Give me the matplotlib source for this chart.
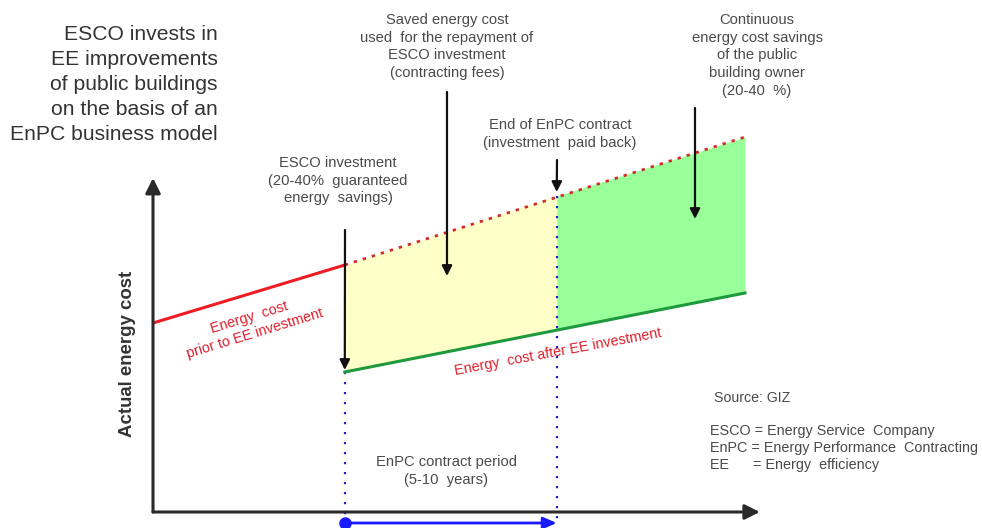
import matplotlib
matplotlib.use("Agg")
import matplotlib.pyplot as plt

plt.rcParams['font.family'] = ['Liberation Sans', 'DejaVu Sans']

# ---- data (time in % of horizon, cost in arbitrary units) ----
t_points = [0, 32.4, 68.2, 100]          # start, investment, end of contract, horizon
cost_before = [47.25, 61.75, 79.0, 93.75]  # energy cost without EE investment
cost_after = [None, 35.0, 45.5, 54.75]     # energy cost after EE investment
x_axis_end = 102.5
y_axis_end = 83.5

W, H = 982, 528
fig = plt.figure(figsize=(W / 100, H / 100), dpi=100)
# axes placed so that t=0..100 -> px 153..745, c=0..100 -> py 512..112
ax = fig.add_axes([153 / W, (H - 512) / H, 592 / W, 400 / H])
ax.set_xlim(0, 100)
ax.set_ylim(0, 100)
ax.axis('off')


def P(x, y):
    """pixel position -> data coords (for text layout only)"""
    return (x - 153) / 5.92, (512 - y) / 4.0


GRAY = '#4a4a4a'
RED_TXT = '#e0202e'
RED = '#ee1c25'
GREEN = '#1e9a3c'

t0, ti, te, tf = t_points
b0, bi, be, bf = cost_before
_, ai, ae, af = cost_after

# fills
ax.fill_between([ti, te], [bi, be], [ai, ae], color='#ffffc8', lw=0, zorder=1)
ax.fill_between([te, tf], [be, bf], [ae, af], color='#99ff99', lw=0, zorder=1)

# lines
ax.plot([t0, ti], [b0, bi], color=RED, lw=2.2, zorder=3, clip_on=False, solid_capstyle='butt')
ax.plot([ti, tf], [bi, bf], color='#d42a2a', lw=2.0, ls=(0, (1.2, 2.2)), zorder=3, clip_on=False)
ax.plot([ti, tf], [ai, af], color=GREEN, lw=2.2, zorder=3, clip_on=False)

# blue dotted verticals
ax.plot([ti, ti], [ai, -2.8], color='#2020d0', lw=1.6, ls=(0, (1, 3.5)), zorder=2, clip_on=False)
ax.plot([te, te], [be, -2.8], color='#2020d0', lw=1.6, ls=(0, (1, 3.5)), zorder=2, clip_on=False)

# axes arrows
arrow_k = dict(arrowstyle='-|>,head_length=0.9,head_width=0.45', color='#2a2a2a', lw=2.2,
               shrinkA=0, shrinkB=0)
ax.annotate('', xy=(x_axis_end, 0), xytext=(0, 0), arrowprops=arrow_k, annotation_clip=False)
ax.annotate('', xy=(0, y_axis_end), xytext=(0, 0), arrowprops=arrow_k, annotation_clip=False)

# blue period arrow
ax.plot([ti], [-2.75], 'o', color='#1a1aff', ms=8, clip_on=False, zorder=4)
ax.annotate('', xy=(te, -2.75), xytext=(ti, -2.75),
            arrowprops=dict(arrowstyle='-|>,head_length=0.8,head_width=0.35', color='#1a1aff', lw=2,
                            shrinkA=0, shrinkB=0), annotation_clip=False)

# black annotation arrows
blk = dict(arrowstyle='-|>,head_length=0.6,head_width=0.3', color='#111111', lw=1.6,
           shrinkA=0, shrinkB=0)
ax.annotate('', xy=(ti, ai + 0.5), xytext=P(345, 230), arrowprops=blk, annotation_clip=False)
ax.annotate('', xy=P(447, 276), xytext=P(447, 92), arrowprops=blk, annotation_clip=False)
ax.annotate('', xy=(te, be + 1), xytext=P(557, 160), arrowprops=blk, annotation_clip=False)
ax.annotate('', xy=P(695, 219), xytext=P(695, 108), arrowprops=blk, annotation_clip=False)

# texts
ax.text(*P(218, 25), 'ESCO invests in\nEE improvements\nof public buildings\non the basis of an\nEnPC business model',
        ha='right', va='top', fontsize=15.2, color='#333333', linespacing=1.4)
ax.text(*P(447, 13), 'Saved energy cost\nused  for the repayment of\nESCO investment\n(contracting fees)',
        ha='center', va='top', fontsize=10.6, color=GRAY, linespacing=1.33)
ax.text(*P(757, 13), 'Continuous\nenergy cost savings\nof the public\nbuilding owner\n(20-40  %)',
        ha='center', va='top', fontsize=10.6, color=GRAY, linespacing=1.33)
ax.text(*P(560, 118), 'End of EnPC contract\n(investment  paid back)',
        ha='center', va='top', fontsize=10.6, color=GRAY, linespacing=1.33)
ax.text(*P(338, 156), 'ESCO investment\n(20-40%  guaranteed\nenergy  savings)',
        ha='center', va='top', fontsize=10.6, color=GRAY, linespacing=1.33)
ax.text(*P(252, 326), 'Energy  cost\nprior to EE investment', ha='center', va='center',
        fontsize=10.4, color=RED_TXT, rotation=17, rotation_mode='anchor', linespacing=1.25)
ax.text(*P(558, 352), 'Energy  cost after EE investment', ha='center', va='center',
        fontsize=10.4, color=RED_TXT, rotation=10.5, rotation_mode='anchor')
ax.text(*P(128, 354), 'Actual energy cost', ha='center', va='center', rotation=90,
        fontsize=13.4, fontweight='bold', color='#333333')
ax.text(*P(714, 398), 'Source: GIZ', ha='left', va='center', fontsize=10.2, color=GRAY)
ax.text(*P(710, 424), 'ESCO = Energy Service  Company\nEnPC = Energy Performance  Contracting\nEE      = Energy  efficiency',
        ha='left', va='top', fontsize=10.4, color=GRAY, linespacing=1.27)
ax.text(*P(446, 471), 'EnPC contract period\n(5-10  years)', ha='center', va='center',
        fontsize=10.6, color=GRAY, linespacing=1.28)

fig.savefig('out.png', dpi=100)
